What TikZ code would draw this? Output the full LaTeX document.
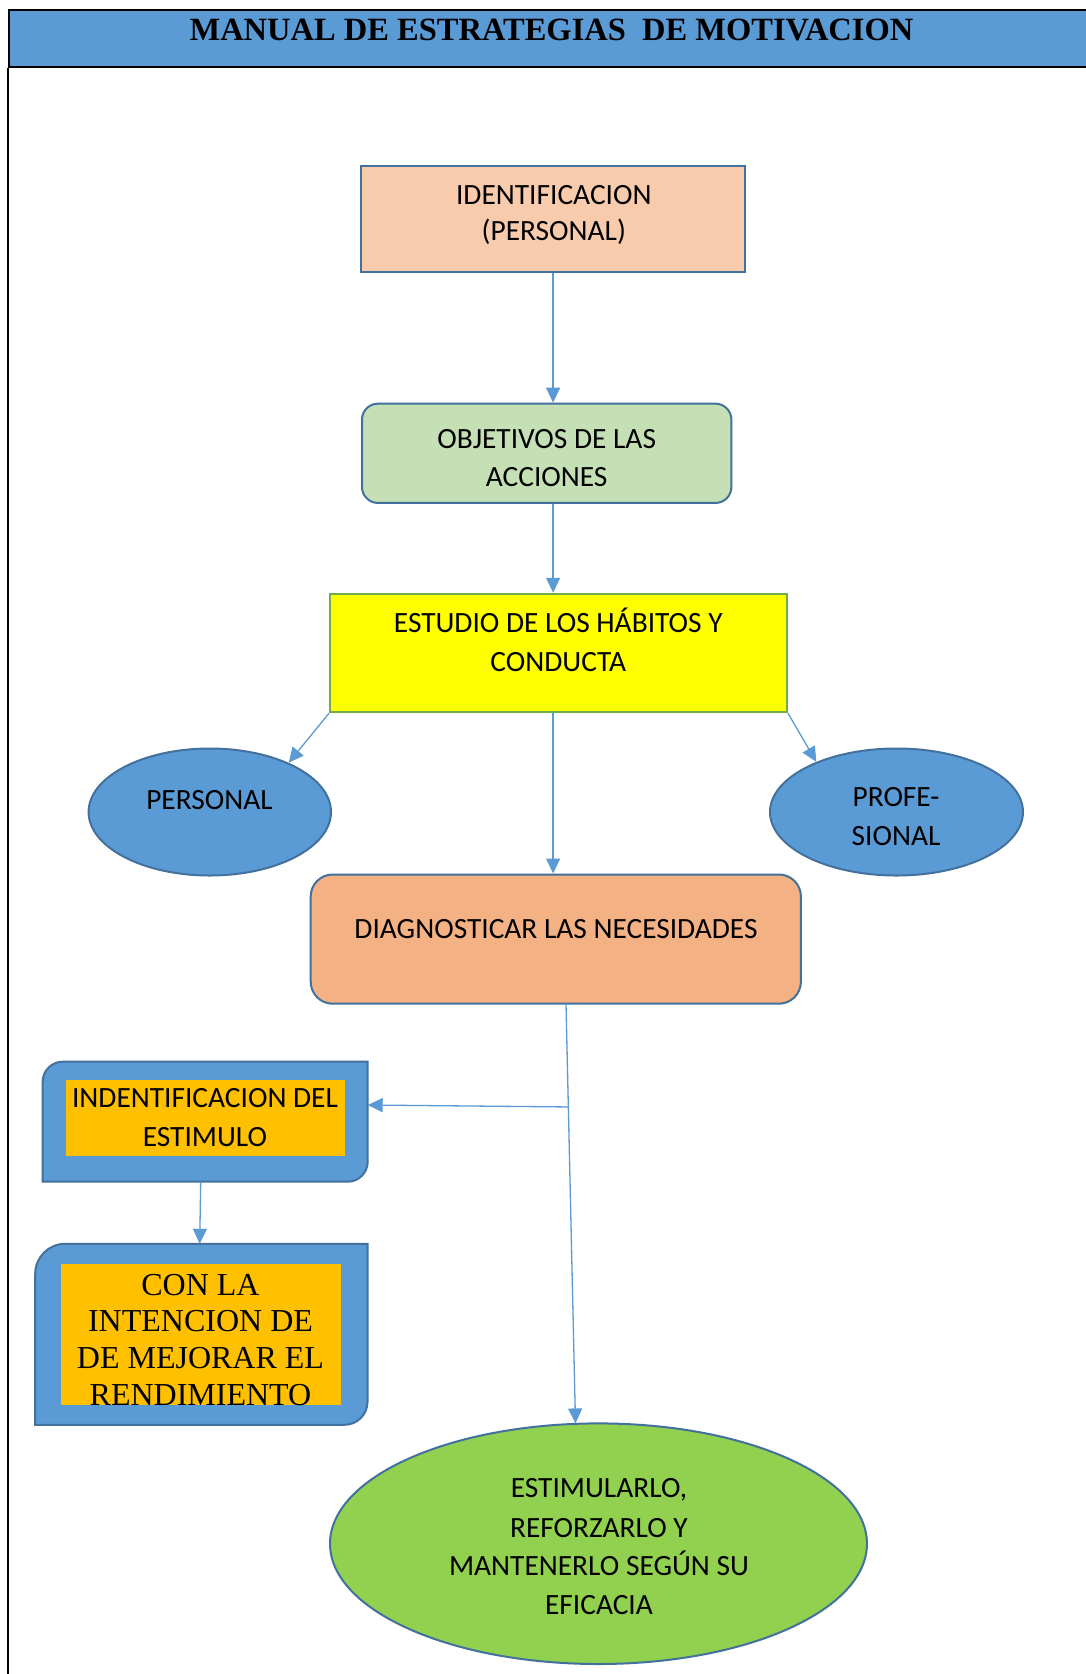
\documentclass[tikz,border=0pt]{standalone}
\usepackage{fontspec}
\usepackage{graphicx}
\setmainfont{Carlito}
\newfontfamily\tnr{Liberation Serif}
\usetikzlibrary{arrows.meta,shapes.geometric,calc}
\definecolor{hdr}{HTML}{5B9BD5}
\definecolor{bord}{HTML}{41719C}
\definecolor{peach}{HTML}{F8CBAD}
\definecolor{lgreen}{HTML}{C5E0B4}
\definecolor{ybox}{HTML}{FFFF00}
\definecolor{gbord}{HTML}{70AD47}
\definecolor{salmon}{HTML}{F4B183}
\definecolor{orng}{HTML}{FFC000}
\definecolor{grn}{HTML}{92D050}
\newcommand\rdiagrect[7]{%
  \path[#7] ({#1},{#4}) -- ({#1},{#2+#5}) .. controls ({#1},{#2+0.448*#5}) and ({#1+0.448*#5},{#2}) .. ({#1+#5},{#2})
    -- ({#3},{#2}) -- ({#3},{#4-#6}) .. controls ({#3},{#4-0.448*#6}) and ({#3-0.448*#6},{#4}) .. ({#3-#6},{#4}) -- cycle;}
\begin{document}
\begin{tikzpicture}[x=1pt,y=-1pt,
  box/.style={rectangle, inner sep=0pt, draw=bord, line width=2pt},
  ell/.style={ellipse, inner sep=0pt, draw=bord, line width=2pt},
  txt/.style={anchor=base, inner sep=0pt, font=\fontsize{29.4}{35}\selectfont},
  serif/.style={anchor=base, inner sep=0pt, font=\tnr\fontsize{32}{36}\selectfont},
  arr/.style={draw=hdr, line width=1.3pt, -{Triangle[length=15pt,width=14pt]}},
  ln/.style={draw=hdr, line width=1.3pt}]
\useasboundingbox (0,0) rectangle (1086,1674);
\fill[white] (0,0) rectangle (1086,1674);

% header and frame
\node[rectangle, draw=black, fill=hdr, line width=2pt, inner sep=0pt, anchor=north west,
  minimum width=1090pt, minimum height=56.7pt] (hdr) at (7.7,9) {};
\node[anchor=base, inner sep=0pt, font=\tnr\bfseries\fontsize{32.5}{36}\selectfont] (title) at (551.5,40)
  {MANUAL DE ESTRATEGIAS~ DE MOTIVACION};
\draw[line width=2pt] (hdr.south west) -- (7.7,1690);

% main boxes
\node[box, fill=peach, minimum width=384.4pt, minimum height=106.8pt] (ident) at (553.1,218.9) {};
\node[box, fill=lgreen, rounded corners=16pt, minimum width=369.4pt, minimum height=99.3pt] (obj) at (546.7,453.3) {};
\node[box, draw=gbord, fill=ybox, minimum width=457pt, minimum height=118.5pt] (est) at (558.5,653) {};
\node[ell, fill=hdr, minimum width=242.4pt, minimum height=127pt] (pers) at (209.8,812) {};
\node[ell, fill=hdr, minimum width=253pt, minimum height=127pt] (prof) at (896.5,812) {};
\node[box, fill=salmon, rounded corners=22pt, minimum width=490.2pt, minimum height=129.2pt] (diag) at (555.8,939.1) {};
\node[ell, fill=grn, minimum width=537pt, minimum height=240.6pt] (estim) at (598.5,1543.7) {};

% left column shapes
\node[rectangle, inner sep=0pt, minimum width=325pt, minimum height=120pt] (idout) at (205.2,1121.7) {};
\rdiagrect{42.7}{1061.7}{367.7}{1181.7}{20}{20}{draw=bord, fill=hdr, line width=2pt}
\node[rectangle, inner sep=0pt, fill=orng, minimum width=278.7pt, minimum height=76.9pt] (idin) at (205.5,1118) {};
\node[rectangle, inner sep=0pt, minimum width=332.5pt, minimum height=181pt] (conout) at (201.3,1334.3) {};
\rdiagrect{35.2}{1243.8}{367.5}{1424.8}{30}{23}{draw=bord, fill=hdr, line width=2pt}
\node[rectangle, inner sep=0pt, fill=orng, minimum width=279.7pt, minimum height=141pt] (conin) at (200.75,1334.5) {};

% texts
\node[txt] (identA) at (553.8,204.3) {IDENTIFICACION};
\node[txt] (identB) at (553.8,240.3) {(PERSONAL)};
\node[txt] (objA) at (546.7,448.3) {OBJETIVOS DE LAS};
\node[txt] (objB) at (546.7,486.3) {ACCIONES};
\node[txt] (estA) at (558.3,632.3) {ESTUDIO DE LOS HÁBITOS Y};
\node[txt] (estB) at (558.3,671.3) {CONDUCTA};
\node[txt] (persA) at (209.5,809.3) {PERSONAL};
\node[txt] (profA) at (896,806.3) {PROFE-};
\node[txt] (profB) at (896,845.3) {SIONAL};
\node[txt] (diagA) at (556,938.3) {DIAGNOSTICAR LAS NECESIDADES};
\node[txt] (idA) at (205,1107.6) {INDENTIFICACION DEL};
\node[txt] (idB) at (205,1146) {ESTIMULO};
\node[txt] (emA) at (599,1497.8) {ESTIMULARLO,};
\node[txt] (emB) at (599,1537.3) {REFORZARLO Y};
\node[txt] (emC) at (599,1575.8) {MANTENERLO SEGÚN SU};
\node[txt] (emD) at (599,1614.3) {EFICACIA};
\begin{scope}
\clip (conin.north west) rectangle (conin.south east);
\node[serif] (conA) at (200.5,1295) {CON LA};
\node[serif] (conB) at (200.5,1331.7) {INTENCION DE};
\node[serif] (conC) at (200.5,1368.3) {DE MEJORAR EL};
\node[serif] (conD) at (200.5,1405.5) {RENDIMIENTO};
\end{scope}

% connectors
\draw[arr] (ident.south) -- (ident.south |- obj.north);
\draw[arr] (ident.south |- obj.south) -- (ident.south |- est.north);
\draw[arr] (ident.south |- est.south) -- (ident.south |- diag.north);
\draw[arr] (est.south west) -- (pers.32);
\draw[arr] (est.south east) -- (prof.148);
\coordinate (dstart) at (566,1003.7);
\coordinate (dend) at (575.5,1423.4);
\coordinate (jn) at ($(dstart)!0.246!(dend)$);
\coordinate (idin2) at (367.7,1105);
\draw[arr] (dstart) -- (dend);
\draw[arr] (jn) -- (idin2);
\coordinate (ida) at (200.7,1181.7);
\coordinate (conb) at (199.7,1243.8);
\draw[arr] (ida) -- (conb);
\end{tikzpicture}
\end{document}
